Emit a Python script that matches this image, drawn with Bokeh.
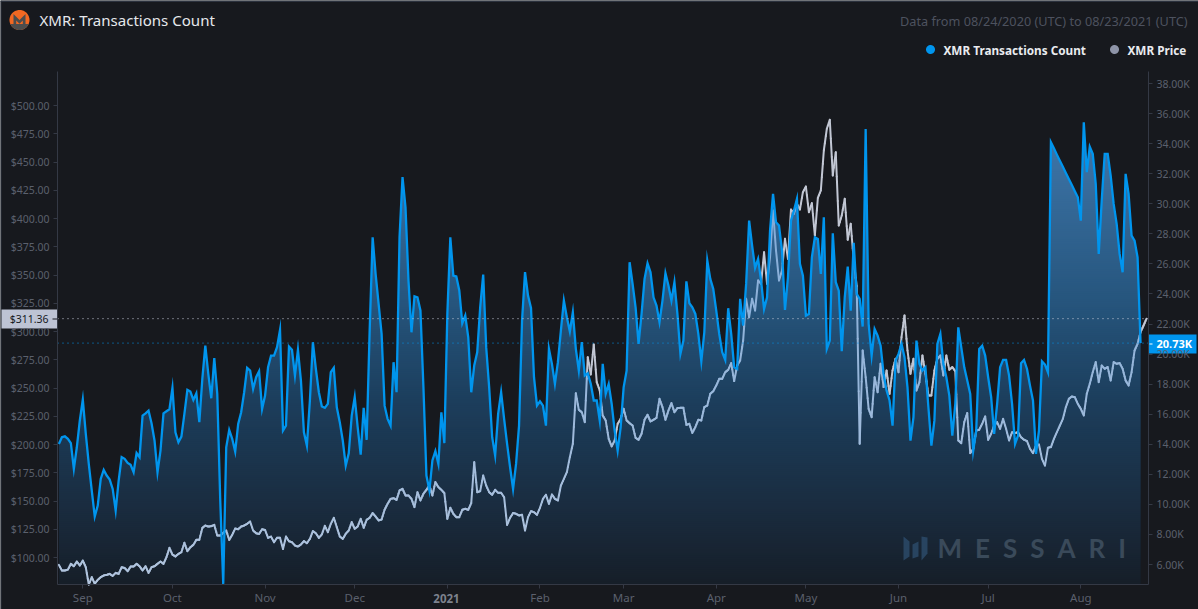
import numpy as np
import pandas as pd
from bokeh.plotting import figure
from bokeh.models import (Range1d, LinearAxis, FixedTicker, PrintfTickFormatter, Label)
from bokeh.embed import file_html
from bokeh.resources import INLINE

start_date = "2020-08-24"

# XMR transactions count, thousands, one value a day from start_date
tx_count_k = [
    14.02,14.47,14.53,14.36,14.07,12.36,13.80,15.58,16.97,14.69,
    12.69,10.92,9.19,9.92,11.69,12.29,11.92,11.65,11.03,9.59,
    11.58,13.14,13.03,12.76,12.63,12.14,13.42,13.14,15.91,16.06,
    16.24,15.40,14.25,12.14,13.58,16.06,16.20,16.33,17.75,14.80,
    14.13,14.51,16.02,17.62,17.51,16.95,17.39,15.47,18.35,20.57,
    18.68,17.06,19.74,17.35,10.25,4.71,13.80,14.95,14.36,13.51,
    15.35,16.13,17.46,19.08,18.90,17.68,18.46,18.86,16.35,17.24,
    19.12,19.90,19.90,20.46,21.61,14.91,15.24,20.50,20.28,18.57,20.28,
    18.24,14.80,13.91,16.91,20.79,19.01,17.46,16.51,16.42,16.69,
    18.79,19.08,16.46,15.47,14.25,12.58,13.40,15.91,17.13,15.13,
    13.31,16.42,14.29,21.56,27.77,25.33,23.34,21.34,16.57,15.69,
    15.24,19.46,17.46,27.77,31.77,29.77,24.89,21.45,23.85,23.78,
    22.90,17.79,11.92,10.92,12.92,13.54,12.69,16.13,14.07,22.67,
    27.77,25.22,25.16,24.23,22.05,22.56,21.12,17.46,19.24,20.12,
    23.12,25.29,20.46,17.79,14.47,13.25,16.02,17.46,15.69,14.02,
    12.47,11.03,12.69,15.24,22.23,25.45,23.89,23.07,18.46,16.57,
    16.86,16.57,15.24,20.35,19.35,18.02,19.46,21.56,23.56,22.45,
    21.50,22.78,20.35,18.90,20.79,18.57,18.73,18.02,16.91,16.91,
    15.58,
    19.35,17.35,18.01,16.68,14.91,13.58,15.13,17.79,18.90,
    26.11,24.67,23.11,20.68,22.67,25.00,26.04,25.44,23.78,23.23,
    22.12,23.56,25.38,24.56,23.56,24.78,22.67,20.01,20.90,24.84,
    23.38,23.11,22.67,21.34,19.52,21.45,26.22,25.00,24.33,22.89,
    21.34,20.12,19.61,23.05,21.34,19.12,19.01,23.67,21.90,24.67,
    28.88,27.22,25.73,26.33,24.89,23.00,23.78,28.22,30.66,28.77,
    28.55,26.89,22.94,25.11,28.88,29.55,30.32,26.00,25.22,22.56,
    22.67,26.44,27.77,27.66,25.33,29.10,20.34,20.90,28.04,24.78,
    24.22,20.19,23.78,25.82,22.89,27.40,24.00,23.67,21.83,34.98,
    22.01,19.90,21.67,21.23,20.56,18.68,17.57,16.91,15.24,19.57,20.01,
    20.68,19.79,17.79,14.24,15.80,20.90,19.35,18.90,19.12,16.46,
    13.91,15.57,20.68,21.34,19.35,18.46,17.24,14.58,16.68,21.78,
    20.45,19.12,18.24,17.35,13.58,14.91,20.34,20.56,19.90,18.46,
    17.13,14.69,16.68,19.12,19.61,19.61,18.57,16.68,14.02,14.58,
    19.39,19.61,19.01,17.90,16.91,13.36,14.91,19.52,19.30,18.79,
    34.09,33.69,33.27,32.87,32.47,32.05,31.65,31.25,30.83,30.43,
    28.88,35.42,32.10,33.80,33.32,31.32,26.66,30.21,33.32,33.32,
    31.88,29.99,28.66,26.66,25.44,31.99,30.66,27.88,27.55,26.44,20.73,
]

# XMR price, dollars, one value a day from start_date
price_usd = [
    93.5,88.5,88.5,89.3,94.4,92.3,96.4,92.9,97.3,91.4,
    76.1,82.6,76.7,80.2,82.6,84.1,84.6,85.5,83.7,86.4,
    85.5,91.4,90.8,87.9,92.0,92.0,94.4,92.3,88.5,92.3,
    86.4,91.4,92.3,94.4,96.4,94.4,100.3,108.5,102.6,100.9,
    103.2,104.7,113.0,105.6,109.1,111.2,115.6,115.6,126.2,128.3,
    127.4,127.7,128.9,119.4,119.4,121.8,123.9,115.6,120.0,125.6,
    125.0,127.4,128.3,129.8,131.8,123.9,121.5,120.9,125.0,124.4,
    117.4,118.5,113.5,117.4,117.4,107.6,118.5,114.4,113.5,110.6,109.7,
    111.5,114.5,112.7,116.5,123.3,121.5,117.4,120.4,128.0,122.4,
    129.8,135.1,126.9,118.6,116.5,121.0,123.9,131.3,125.4,127.5,
    134.2,126.3,133.4,135.1,139.3,136.3,132.8,133.6,142.2,147.5,
    151.9,152.5,151.0,159.3,160.8,154.9,154.9,151.9,144.6,157.8,
    150.5,156.4,159.9,163.7,154.9,166.7,162.3,159.9,157.0,134.2,
    144.0,138.7,135.7,135.7,142.2,143.1,142.2,148.1,184.4,157.8,
    158.7,172.6,163.7,157.8,155.5,159.9,157.2,157.2,153.4,128.9,
    135.1,139.3,138.7,137.2,137.8,123.9,135.7,141.0,140.1,137.8,
    144.0,151.9,155.5,147.5,155.8,151.9,150.5,163.7,169.6,175.5,
    188.8,200.6,245.4,230.7,228.6,219.8,277.3,262.0,288.5,255.2,
    247.8,
    225.7,221.3,205.0,198.3,203.6,218.3,222.7,231.6,221.3,218.9,
    216.8,205.9,204.2,209.5,221.9,226.3,220.4,221.9,223.6,240.4,
    233.1,221.9,230.1,236.6,228.6,232.2,232.5,232.5,217.4,218.3,
    210.3,215.4,221.9,221.3,233.1,234.5,244.9,247.2,252.2,258.1,
    258.1,264.0,266.1,272.0,256.1,269.9,274.4,292.1,328.9,312.7,
    328.9,318.6,345.2,342.2,370.2,342.2,365.8,407.1,371.7,345.2,
    354.0,382.0,364.3,408.0,404.2,413.0,408.0,423.3,428.3,405.6,
    413.6,385.0,418.3,424.8,460.2,479.4,487.3,438.1,458.7,393.8,
    402.7,417.4,381.2,395.3,362.9,340.2,200.6,283.2,259.6,231.6,
    224.2,259.6,246.3,271.4,250.8,265.5,244.9,265.5,275.8,264.0,
    295.0,314.2,283.2,262.6,275.8,247.8,255.2,278.8,262.6,243.4,
    243.4,265.5,275.8,278.8,261.1,278.8,266.1,268.5,264.9,203.6,
    201.2,219.8,227.8,192.4,196.2,212.4,213.0,218.3,224.8,204.2,
    209.5,216.8,219.8,213.9,222.7,213.9,203.6,210.9,210.1,210.9,
    206.5,204.2,203.0,196.2,192.4,199.1,200.0,187.3,181.4,197.1,
    197.7,205.0,210.9,216.8,222.7,233.1,240.4,242.5,241.9,236.0,
    231.6,225.7,244.9,253.7,264.0,272.9,255.2,269.9,267.0,268.5,
    256.7,272.9,271.4,272.0,267.0,256.7,252.2,264.0,283.2,289.1,
    299.4,305.3,311.36,
]

month_starts = ["2020-09-01","2020-10-01","2020-11-01","2020-12-01","2021-01-01","2021-02-01",
                "2021-03-01","2021-04-01","2021-05-01","2021-06-01","2021-07-01","2021-08-01"]
month_labels = ["Sep","Oct","Nov","Dec","","Feb","Mar","Apr","May","Jun","Jul","Aug"]
price_ticks = list(range(100, 525, 25))
tx_ticks = list(range(6, 40, 2))
last_price = 311.36
last_tx_k = 20.73

assert len(tx_count_k) == 363 and len(price_usd) == 365, (len(tx_count_k), len(price_usd))

BG = "#17191e"
BLUE = "#0095ee"
FONT = "Noto Sans"
W, H = 1198, 609
L_, R_, T_, B_ = 57, 1148, 71, 584


def ms(d):
    return (pd.Timestamp(d) - pd.Timestamp(0)) / pd.Timedelta("1ms")


DAY = 86400000.0
x0 = ms(start_date)
px_per_day = 2.988
price_px = 1.13
tx_px = 15.03


# the frame fills the whole figure: ranges map reference pixels to data
def X(px):
    return x0 + (px - 58.4) / px_per_day * DAY


def Y(py):
    return 100 + (557 - py) / price_px


def TX(py):
    return 6 + (564 - py) / tx_px


xr = Range1d(X(0), X(W))
yr = Range1d(Y(H), Y(0))
tr = Range1d(TX(H), TX(0))

p = figure(width=W, height=H, output_backend="svg", toolbar_location=None,
           x_range=xr, y_range=yr,
           min_border_left=0, min_border_right=0, min_border_top=0, min_border_bottom=0,
           background_fill_color=BG, border_fill_color=BG)
p.outline_line_color = None
p.grid.visible = False
p.extra_y_ranges = {"tx": tr}

axis_col = "#343945"
lab_col = "#5b606d"
ra = LinearAxis(y_range_name="tx")
p.add_layout(ra, "right")
for ax in (p.yaxis[0], ra, p.xaxis[0]):
    ax.axis_line_color = axis_col
    ax.major_tick_line_color = axis_col
    ax.minor_tick_line_color = None
    ax.major_tick_in = 0
    ax.major_tick_out = 4
    ax.major_label_text_color = lab_col
    ax.major_label_text_font = FONT
    ax.major_label_text_font_size = "10.5px"
    ax.major_label_standoff = 4

p.yaxis[0].fixed_location = X(L_)
p.yaxis[0].bounds = (Y(B_), Y(T_))
ra.fixed_location = X(R_)
ra.bounds = (TX(B_), TX(T_))
p.xaxis[0].fixed_location = Y(B_)
p.xaxis[0].bounds = (X(L_), X(R_))

p.yaxis[0].ticker = FixedTicker(ticks=price_ticks)
p.yaxis[0].formatter = PrintfTickFormatter(format="$%.2f")
ra.ticker = FixedTicker(ticks=tx_ticks)
ra.formatter = PrintfTickFormatter(format="%.2fK")
mticks = [ms(m) for m in month_starts]
p.xaxis[0].ticker = FixedTicker(ticks=mticks)
p.xaxis[0].major_label_overrides = {t: s for t, s in zip(mticks, month_labels)}
p.xaxis[0].major_label_text_font_size = "11.5px"
p.xaxis[0].major_label_standoff = 1

xs_price = x0 + np.arange(len(price_usd)) * DAY
xs_tx = x0 + np.arange(len(tx_count_k)) * DAY
tx_arr = np.array(tx_count_k)
price_arr = np.array(price_usd)

# colour of the area fill by picture row
stop_rows = [120, 150, 300, 400, 500, 584]
stop_cols = np.array([(66, 124, 175), (60, 115, 165), (38, 85, 125), (28, 62, 92), (26, 45, 65), (22, 30, 40)],
                     dtype=float)


def fill_rgb(row):
    return np.array([np.interp(row, stop_rows, stop_cols[:, c]) for c in range(3)])


def hexcol(rgb):
    return "#%02x%02x%02x" % tuple(int(round(v)) for v in rgb)


# gradient area: opaque bands, each reaching one pixel under the next, so no seams appear
step = 2
a, b = tx_arr[:-1], tx_arr[1:]
for row in range(B_, 119, -step):
    lo, hi = TX(min(row + 1, B_)), TX(row - step)
    cross = []
    for lev in (lo, hi):
        idx = np.where((a - lev) * (b - lev) < 0)[0]
        cross.extend(xs_tx[idx] + (lev - a[idx]) / (b[idx] - a[idx]) * DAY)
    xs = np.union1d(xs_tx, cross)
    ys = np.interp(xs, xs_tx, tx_arr)
    if ys.max() <= lo:
        continue
    p.varea(xs, y1=np.full_like(xs, lo), y2=np.clip(ys, lo, hi), y_range_name="tx",
            fill_color=hexcol(fill_rgb(row - step / 2)))

# price line: lies under the translucent look of the area, so its pieces inside it are tinted
price_in_tx = TX(557 - (price_arr - 100) * price_px)
grid = x0 + np.arange(0, len(price_usd) - 1 + 1e-9, 1 / 3) * DAY
grid_p = np.interp(grid, xs_price, price_in_tx)
grid_t = np.interp(grid, xs_tx, tx_arr, right=-100)
d = grid_t - grid_p
idx = np.where(d[:-1] * d[1:] < 0)[0]
grid = np.union1d(grid, grid[idx] + (grid[idx + 1] - grid[idx]) * d[idx] / (d[idx] - d[idx + 1]))
seg_price = np.interp(grid, xs_price, price_arr)
mid_x = (grid[:-1] + grid[1:]) / 2
mid_price = np.interp(mid_x, xs_price, price_arr)
mid_row = 557 - (mid_price - 100) * price_px
under = np.interp(mid_x, xs_tx, tx_arr, right=-100) > TX(mid_row)
base = np.array([204, 210, 224], dtype=float)
tint = np.array([70, 140, 210], dtype=float)
seg_cols = []
for r, u in zip(mid_row, under):
    if u:
        w = 0.2 + (B_ - r) / 434 * 0.4
        seg_cols.append(hexcol(base * (1 - w) + tint * w))
    else:
        seg_cols.append("#c2c7d4")
p.segment(grid[:-1], seg_price[:-1], grid[1:], seg_price[1:], line_color=seg_cols, line_width=2,
          line_cap="round")

p.line(xs_tx, tx_count_k, y_range_name="tx", line_color=BLUE, line_width=2.3, line_join="miter")

p.line([X(L_), X(R_)], [last_price, last_price], line_color="#c9cedb", line_width=1,
       line_dash=[1, 4])
p.line([X(L_), X(R_)], [last_tx_k, last_tx_k], y_range_name="tx", line_color=BLUE, line_width=1,
       line_dash=[1, 4])


def poly(pts, color, alpha=1.0):
    p.patch([X(a) for a, _ in pts], [Y(b) for _, b in pts], fill_color=color, fill_alpha=alpha,
            line_color=None)


def rect(x1, y1, x2, y2, color, alpha=1.0):
    poly([(x1, y1), (x2, y1), (x2, y2), (x1, y2)], color, alpha)


def disc(cx, cy, r, color, y_min=None):
    th = np.linspace(0, 2 * np.pi, 72)
    pts = [(cx + r * np.cos(t), cy + r * np.sin(t)) for t in th]
    if y_min is not None:
        pts = [(a, max(b, y_min)) for a, b in pts]
    poly(pts, color)


def text(s, x, y, size, color, align="left", bold=False, font=FONT):
    p.add_layout(Label(x=X(x), y=Y(y), text=s, text_font=font, text_font_size=f"{size}px",
                       text_color=color, text_align=align, text_baseline="middle",
                       text_font_style="bold" if bold else "normal"))


# page frame lines
rect(0, 0, W, 1.5, "#2b313d")
rect(0, 0, 1, H, "#2b313d")

# monero logo
disc(19, 19.5, 10, "#f26822")
disc(19, 19.5, 10, "#4d4d4d", y_min=23.5)
poly([(13, 24), (13, 13.5), (19, 19.5), (25, 13.5), (25, 24), (22.3, 24), (22.3, 20),
      (19, 23.3), (15.7, 20), (15.7, 24)], "#4d4d4d")

text("XMR: Transactions Count", 39, 19.5, 15.05, "#e6e8ec")
text("Data from 08/24/2020 (UTC) to 08/23/2021 (UTC)", 1187, 20.5, 12.7, "#4d525f", align="right")

disc(930, 49, 4.5, "#0095ee")
text("XMR Transactions Count", 943, 49, 11.75, "#e9ebef", bold=True)
disc(1114, 49, 4.5, "#8e94a8")
text("XMR Price", 1127, 49, 11.75, "#e9ebef", bold=True)

text("2021", 446, 598, 11.5, "#7d828e", align="center", bold=True)

# value tags
rect(1, 309, 57, 328, "#bdc3d4")
rect(52, 318, 57, 319, "#17191e")
text(f"${last_price:.2f}", 48, 318, 10.5, "#17191e", align="right")
rect(1148, 334, 1196, 353, BLUE)
rect(1149, 343, 1152, 344, "#ffffff")
text(f"{last_tx_k:.2f}K", 1156, 343, 11, "#ffffff", bold=True)

# watermark
wm = "#3a4a5a"
text("M\u2002E\u2002S\u2002S\u2002A\u2002R\u2002I", 937, 547.5, 26, wm, bold=True, font="Lato")
for a, b in ((903, 909), (912, 918), (921, 927)):
    poly([(a, 536 if a != 912 else 544), (b, 541 if a != 921 else 537),
          (b, 556 if a != 921 else 553), (a, 560 if a != 912 else 558)], "#2b4a68", 0.85)

open("out.html", "w").write(file_html(p, INLINE))
